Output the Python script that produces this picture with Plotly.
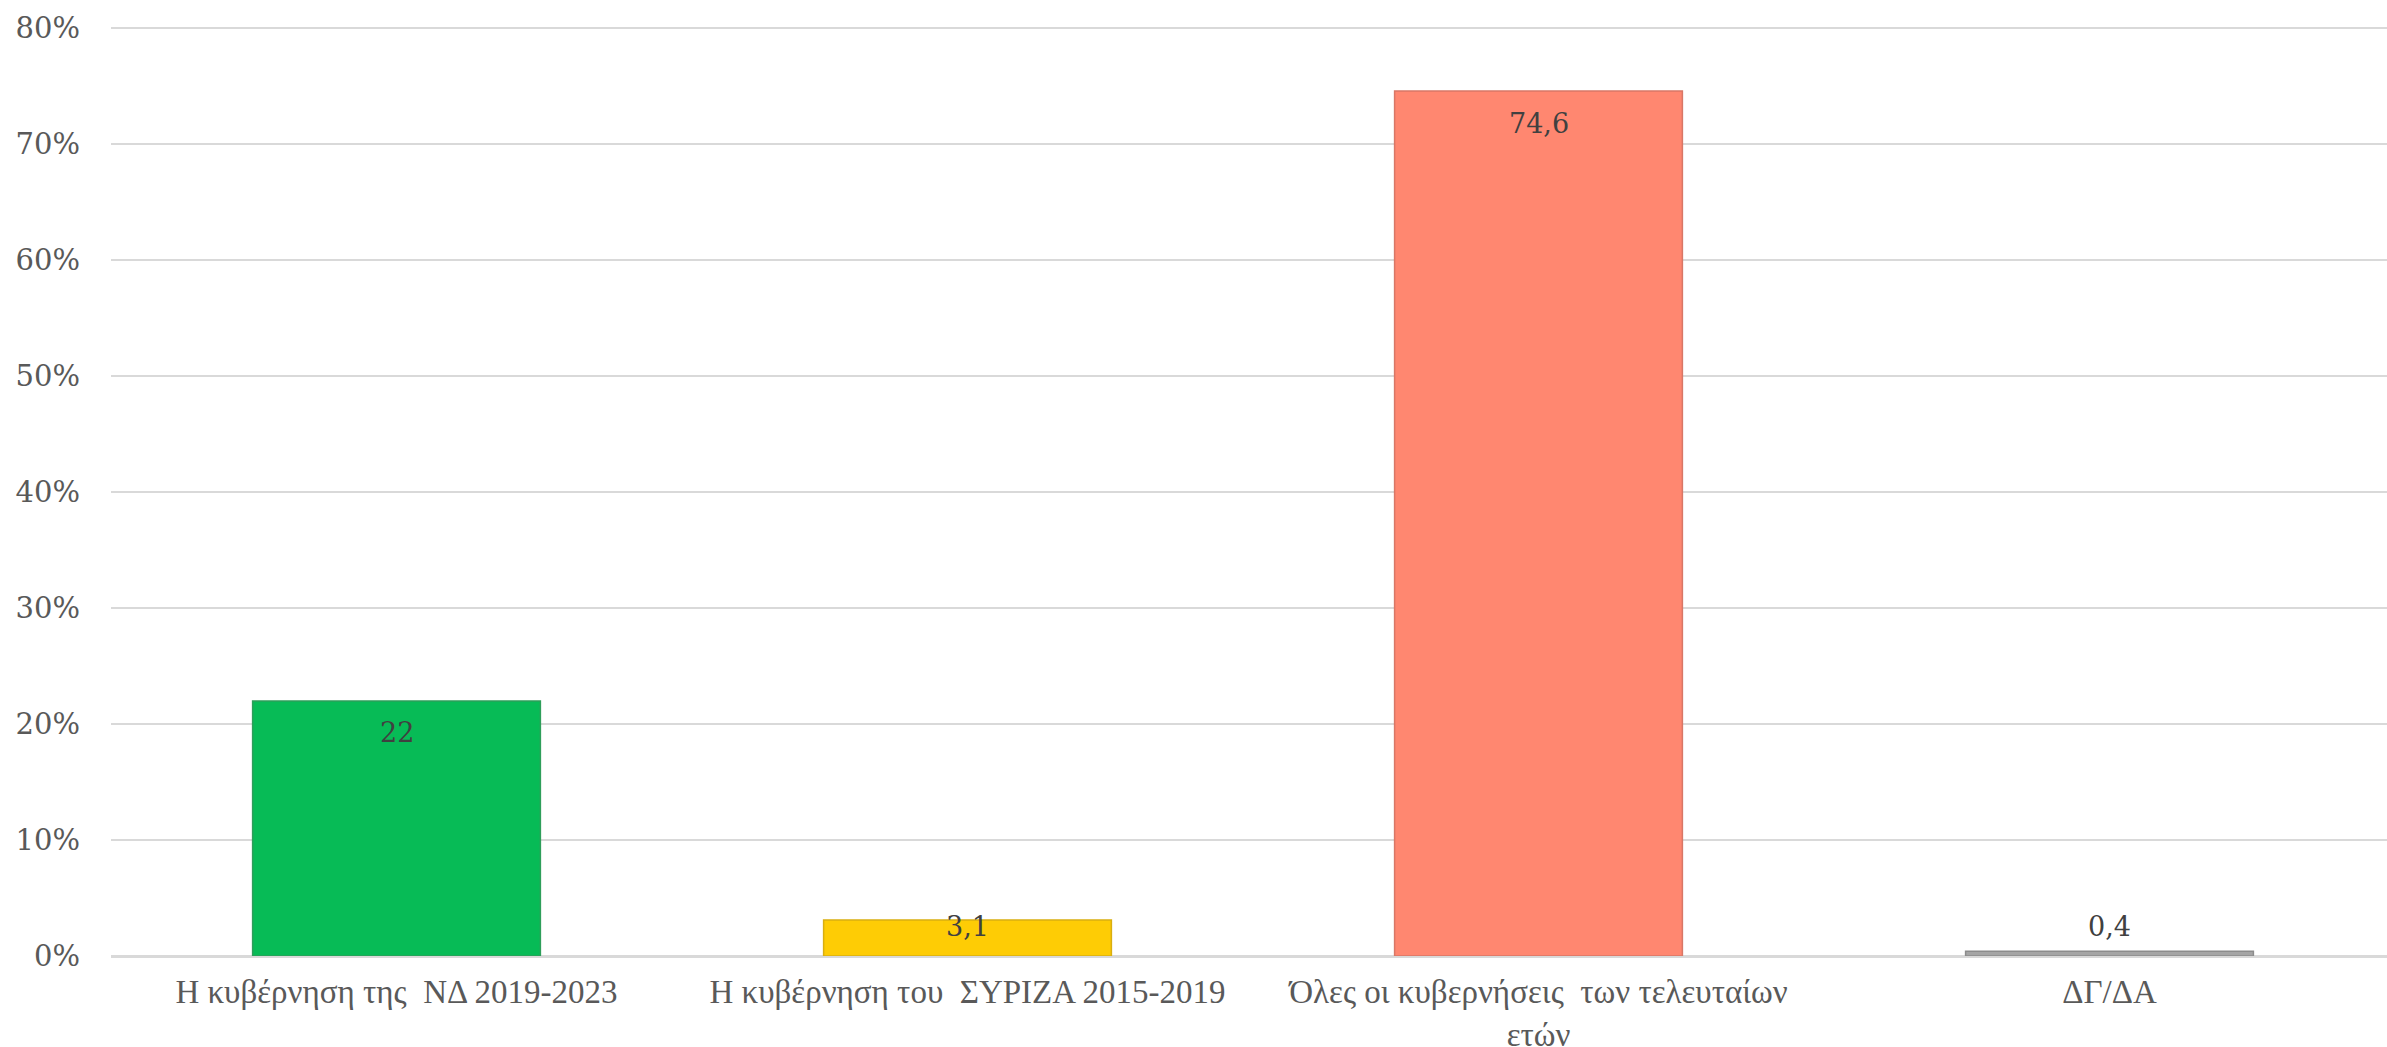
import plotly.graph_objects as go

categories = [
    "Η κυβέρνηση της  ΝΔ 2019-2023",
    "Η κυβέρνηση του  ΣΥΡΙΖΑ 2015-2019",
    "Όλες οι κυβερνήσεις  των τελευταίων<br>ετών",
    "ΔΓ/ΔΑ",
]
values = [22.0, 3.1, 74.6, 0.4]
value_labels = ["22", "3,1", "74,6", "0,4"]
tick_values = [0, 10, 20, 30, 40, 50, 60, 70, 80]
tick_labels = ["0%", "10%", "20%", "30%", "40%", "50%", "60%", "70%", "80%"]

colors = ["#07BB56", "#FECC05", "#FF8770", "#A5A5A5"]
line_colors = ["#2E9E5A", "#D9AE10", "#D97766", "#8C8C8C"]
label_shift = [-32, -6, -33, 25]

num_font = "DejaVu Serif"
cat_font = "Liberation Serif"

fig = go.Figure()
fig.add_trace(go.Bar(
    x=categories,
    y=values,
    marker=dict(color=colors, line=dict(color=line_colors, width=1.5)),
    hoverinfo="skip",
))

for c, v, t, s in zip(categories, values, value_labels, label_shift):
    fig.add_annotation(
        x=c, y=v, text=t, showarrow=False, yanchor="middle", yshift=s,
        font=dict(family=num_font, size=27, color="#404040"),
    )

fig.update_layout(
    width=2387,
    height=1047,
    paper_bgcolor="white",
    plot_bgcolor="white",
    margin=dict(l=111, r=0, t=26, b=91, autoexpand=False),
    bargap=0.496,
    showlegend=False,
    xaxis=dict(
        type="category",
        range=[-0.5, 3.486],
        showgrid=False,
        showline=False,
        ticks="",
        tickfont=dict(family=cat_font, size=33, color="#595959"),
        ticklabelstandoff=13,
    ),
    yaxis=dict(
        range=[0, 80.2],
        tickvals=tick_values,
        ticktext=tick_labels,
        showgrid=True,
        gridcolor="#D9D9D9",
        gridwidth=2,
        zeroline=True,
        zerolinecolor="#D9D9D9",
        zerolinewidth=3,
        ticks="",
        tickfont=dict(family=num_font, size=29, color="#595959"),
        ticklabelstandoff=30,
    ),
)

fig.write_html(
    "out.html",
    config={"displayModeBar": False},
    post_script="document.body.style.margin='0';document.body.style.overflow='hidden';",
)
